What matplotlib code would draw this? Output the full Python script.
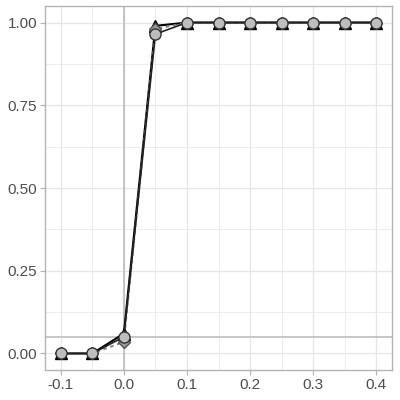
import numpy as np
import matplotlib
matplotlib.use("Agg")
import matplotlib.pyplot as plt

plt.rcParams["font.family"] = ["Liberation Sans", "DejaVu Sans"]

x = [-0.1, -0.05, 0.0, 0.05, 0.1, 0.15, 0.2, 0.25, 0.3, 0.35, 0.4]
tri = [0.0, 0.0, 0.06, 0.99, 1.0, 1.0, 1.0, 1.0, 1.0, 1.0, 1.0]
dia = [0.0, 0.0, 0.035, 0.98, 1.0, 1.0, 1.0, 1.0, 1.0, 1.0, 1.0]
circ = [0.0, 0.0, 0.05, 0.965, 1.0, 1.0, 1.0, 1.0, 1.0, 1.0, 1.0]

xticks = [-0.1, 0.0, 0.1, 0.2, 0.3, 0.4]
yticks = [0.0, 0.25, 0.5, 0.75, 1.0]

fig = plt.figure(figsize=(4, 4), dpi=100)
ax = fig.add_axes([45 / 400, 30 / 400, 347 / 400, 364 / 400])

# ggplot theme_light-ish grid
for v in np.arange(-0.15, 0.45, 0.05):
    ax.axvline(v, color="#e6e6e6", lw=0.5 if round(v * 20) % 2 else 0.9, zorder=0)
for v in np.arange(-0.125, 1.1, 0.125):
    ax.axhline(v, color="#e6e6e6", lw=0.5 if round(v * 8) % 2 else 0.9, zorder=0)

ax.axvline(0, color="#bdbdbd", lw=1.2, zorder=1)
ax.axhline(0.05, color="#bdbdbd", lw=1.2, zorder=1)

ax.plot(x, tri, color="black", lw=1.5, marker="^", ms=8, mfc="black", mec="black", zorder=3)
ax.plot(x, dia, color="#7f7f7f", lw=1.3, ls=(0, (2, 2)), marker="D", ms=6,
        mfc="#999999", mec="#555555", zorder=4)
ax.plot(x, circ, color="#222222", lw=1.2, marker="o", ms=8,
        mfc="#bebebe", mec="#333333", zorder=5)

ax.set_xlim(-0.125, 0.425)
ax.set_ylim(-0.05, 1.05)
ax.set_xticks(xticks)
ax.set_xticklabels(["-0.1", "0.0", "0.1", "0.2", "0.3", "0.4"])
ax.set_yticks(yticks)
ax.set_yticklabels(["0.00", "0.25", "0.50", "0.75", "1.00"])
ax.tick_params(colors="#b3b3b3", labelcolor="#4d4d4d", labelsize=11, length=3.5, pad=2)
for s in ax.spines.values():
    s.set_color("#b3b3b3")
    s.set_linewidth(1.0)

fig.savefig("out.png", dpi=100)
